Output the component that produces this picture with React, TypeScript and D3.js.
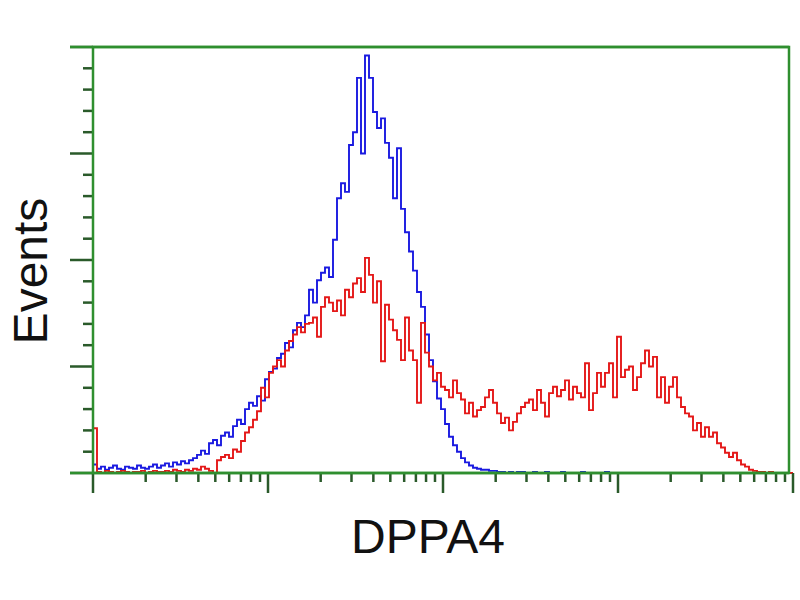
import React from 'react';
import * as d3 from 'd3';

// Histogram counts, one value per channel bin (175 bins over 4 log decades)
const blueCounts = [
  8, 4, 6, 3, 5, 7, 4, 3, 6, 5, 4, 7, 5, 4, 6, 8, 5, 7, 9, 6,
  10, 8, 11, 9, 12, 14, 17, 21, 18, 28, 31, 26, 35, 38, 34, 44, 50, 46, 60, 66,
  63, 72, 68, 88, 95, 98, 108, 112, 122, 118, 134, 141, 137, 148, 172, 160, 181, 188, 193, 184,
  219, 258, 272, 264, 308, 320, 371, 300, 392, 371, 339, 324, 333, 310, 296, 258, 305, 248, 226, 208,
  190, 170, 156, 130, 106, 86, 70, 60, 46, 34, 26, 20, 14, 10, 7, 5, 4, 3, 3, 2,
  2, 1, 1, 0, 1, 0, 1, 1, 0, 0, 1, 0, 0, 1, 0, 0, 0, 1, 0, 0,
  0, 0, 1, 0, 0, 0, 0, 0, 1, 0, 0, 0, 0, 0, 0, 0, 0, 0, 0, 0,
  0, 0, 0, 0, 0, 0, 0, 0, 0, 0, 0, 0, 0, 0, 0, 0, 0, 0, 0, 0,
  0, 0, 0, 0, 0, 0, 0, 0, 0, 0, 0, 0, 0, 0, 0,
];

const redCounts = [
  42, 1, 0, 2, 1, 0, 1, 2, 1, 0, 1, 1, 2, 0, 1, 2, 1, 1, 2, 1,
  3, 2, 1, 3, 2, 4, 3, 6, 4, 2, 0, 12, 15, 17, 14, 22, 20, 30, 38, 43,
  50, 58, 80, 71, 94, 100, 106, 100, 115, 124, 130, 137, 132, 140, 141, 146, 128, 156, 165, 160,
  152, 162, 148, 172, 165, 178, 183, 170, 202, 186, 160, 180, 105, 158, 144, 134, 125, 106, 146, 115,
  106, 66, 141, 113, 100, 87, 94, 81, 78, 71, 87, 75, 69, 56, 66, 53, 59, 62, 71, 78,
  66, 56, 47, 52, 40, 48, 56, 62, 66, 69, 59, 78, 66, 53, 75, 81, 72, 78, 87, 69,
  81, 75, 71, 103, 59, 75, 94, 81, 94, 103, 71, 128, 90, 97, 100, 78, 90, 103, 115, 100,
  109, 71, 90, 66, 81, 90, 71, 62, 56, 53, 40, 47, 34, 43, 34, 38, 28, 24, 19, 15,
  19, 12, 8, 6, 3, 2, 1, 1, 0, 1, 0, 0, 0, 0, 0,
];

const yMax = 400;
const yMajor = [0, 100, 200, 300, 400];
const yMinor = d3.range(0, 401, 20).filter(v => v % 100 !== 0);
const xDecades = [1, 10, 100, 1000, 10000];
const xLabel = 'DPPA4';
const yLabel = 'Events';

export default function App() {
  const left = 93;
  const right = 789;
  const top = 47;
  const bottom = 473;
  const frame = '#2f8f2f';
  const tickColor = '#2a5a2a';

  const x = d3.scaleLog().domain([1, 10000]).range([93, 793]);
  const chan = d3.scaleLinear().domain([0, blueCounts.length]).range([93, 793]);
  const y = d3.scaleLinear().domain([0, yMax]).range([bottom, top]);

  const line = d3.line<number>()
    .x((_, i) => chan(i))
    .y(d => y(d))
    .curve(d3.curveStepAfter);

  const minorX: number[] = [];
  xDecades.slice(0, -1).forEach(d => {
    for (let k = 2; k <= 9; k++) minorX.push(d * k);
  });

  return (
    <svg width={800} height={600} style={{ position: 'absolute', left: 0, top: 0, background: '#fff' }}>
      {/* histograms */}
      <path d={line([...blueCounts, 0]) || ''} fill="none" stroke="#1a1ae0" strokeWidth={1.9} />
      <path d={line([...redCounts, 0]) || ''} fill="none" stroke="#e41818" strokeWidth={1.9} />

      {/* y ticks */}
      {yMajor.map(v => (
        <line key={'ym' + v} x1={70} x2={left} y1={y(v)} y2={y(v)} stroke={tickColor} strokeWidth={2.5} />
      ))}
      {yMinor.map(v => (
        <line key={'yn' + v} x1={83} x2={left} y1={y(v)} y2={y(v)} stroke={tickColor} strokeWidth={2.5} />
      ))}

      {/* x ticks */}
      {xDecades.map(v => (
        <line key={'xm' + v} x1={x(v)} x2={x(v)} y1={bottom} y2={bottom + 20} stroke={tickColor} strokeWidth={2.5} />
      ))}
      {minorX.map(v => (
        <line key={'xn' + v} x1={x(v)} x2={x(v)} y1={bottom} y2={bottom + 9} stroke={tickColor} strokeWidth={2.5} />
      ))}

      {/* frame */}
      <rect x={left} y={top} width={right - left} height={bottom - top} fill="none" stroke={frame} strokeWidth={2.5} />
      <line x1={70} x2={right} y1={top} y2={top} stroke={frame} strokeWidth={2.5} />
      <line x1={70} x2={right} y1={bottom} y2={bottom} stroke={frame} strokeWidth={2.5} />

      {/* labels */}
      <text x={428} y={553} textAnchor="middle" fontFamily="Liberation Sans, Arial, sans-serif" fontSize={48} fill="#111">
        {xLabel}
      </text>
      <text transform="translate(47,271) rotate(-90)" textAnchor="middle" fontFamily="Liberation Sans, Arial, sans-serif" fontSize={48} fill="#111">
        {yLabel}
      </text>
    </svg>
  );
}
